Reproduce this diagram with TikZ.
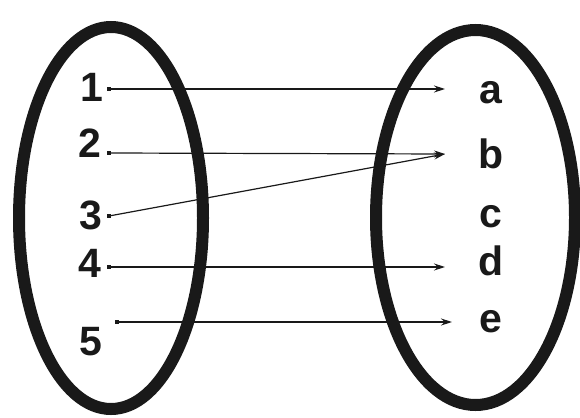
\documentclass[tikz,border=0pt]{standalone}
\usepackage{fontspec}
\setmainfont{Liberation Sans}
\usetikzlibrary{arrows.meta}
\begin{document}
\begin{tikzpicture}[x=1pt,y=-1pt,
  setring/.style={line width=12pt,draw=black!90},
  lbl/.style={font=\fontsize{41}{41}\bfseries\selectfont,text=black!90,anchor=base,inner sep=0pt},
  dotmark/.style={fill=black!90,minimum size=4pt,inner sep=0pt},
  maparrow/.style={line width=1.2pt,draw=black!90,-{Stealth[length=11pt,width=7pt]}}]
\useasboundingbox (0,0) rectangle (580,417);
\draw[setring] (111,218) ellipse [x radius=92, y radius=191];
\draw[setring] (475.5,217.5) ellipse [x radius=99.5, y radius=187.5];
% left labels
\node[lbl] (n1) at (92,102) {1};
\node[lbl] (n2) at (90,157) {2};
\node[lbl] (n3) at (91,229) {3};
\node[lbl] (n4) at (90,277) {4};
\node[lbl] (n5) at (91,355) {5};
% right labels
\node[lbl] (la) at (491,103) {a};
\node[lbl] (lb) at (491,168) {b};
\node[lbl] (lc) at (491,227) {c};
\node[lbl] (ld) at (491,275) {d};
\node[lbl] (le) at (491,332) {e};
% dots
\node[dotmark] (d1) at (109,89) {};
\node[dotmark] (d2) at (109,153) {};
\node[dotmark] (d3) at (109,216) {};
\node[dotmark] (d4) at (109,267) {};
\node[dotmark] (d5) at (117,322) {};
% arrow ends
\coordinate (ea) at (445,89);
\coordinate (eb) at (445,154);
\coordinate (ed) at (445,267);
\coordinate (ee) at (452,322);
\draw[maparrow] (d1.center) -- (ea);
\draw[maparrow] (d2.center) -- (eb);
\draw[maparrow] (d3.center) -- (eb);
\draw[maparrow] (d4.center) -- (ed);
\draw[maparrow] (d5.center) -- (ee);
\end{tikzpicture}
\end{document}
